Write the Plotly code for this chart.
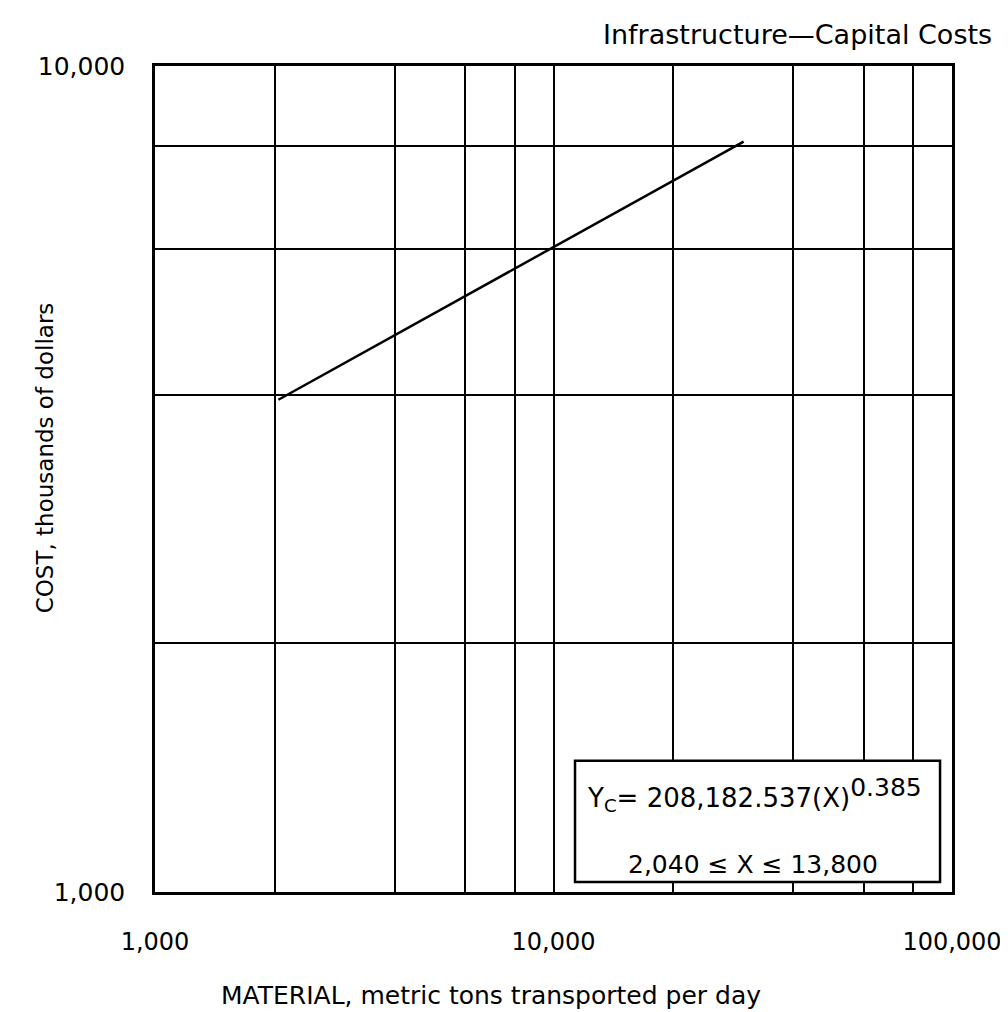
import plotly.graph_objects as go

# ---- data ----
fit_x = [2040, 30000]          # metric tons transported per day
fit_y = [3944, 8100]           # cost, thousands of dollars

x_major_ticks = [1000, 10000, 100000]
x_major_text = ["1,000", "10,000", "100,000"]
x_minor_grid = [2000, 4000, 6000, 8000, 20000, 40000, 60000, 80000]

y_major_ticks = [1000, 10000]
y_major_text = ["1,000", "10,000"]
y_minor_grid = [2000, 4000, 6000, 8000]

title_text = "Infrastructure\u2014Capital Costs"
x_title = "MATERIAL, metric tons transported per day"
y_title = "COST, thousands of dollars"
eq_line1 = "Y<sub>C</sub>= 208,182.537(X)<sup><span style='font-size:25px'>0.385</span></sup>"
eq_line2 = "2,040 \u2264 X \u2264 13,800"

FONT = "DejaVu Sans"

fig = go.Figure()
fig.add_trace(go.Scatter(
    x=fit_x, y=fit_y, mode="lines",
    line=dict(color="black", width=2.5),
    showlegend=False, hoverinfo="skip",
))

axis_common = dict(
    type="log",
    showline=True, mirror=True, linecolor="black", linewidth=2.5,
    showgrid=True, gridcolor="black", gridwidth=2,
    zeroline=False, ticks="",
    ticklabeloverflow="allow",
)

fig.update_xaxes(
    **axis_common,
    range=[3, 5],
    tickfont=dict(family=FONT, size=24, color="black"),
    tickmode="array", tickvals=x_major_ticks, ticktext=x_major_text,
    ticklabelstandoff=26,
    minor=dict(tickmode="array", tickvals=x_minor_grid, showgrid=True,
               gridcolor="black", gridwidth=2, ticks=""),
)
fig.update_yaxes(
    **axis_common,
    range=[3, 4],
    tickfont=dict(family=FONT, size=25, color="black"),
    tickmode="array", tickvals=y_major_ticks, ticktext=y_major_text,
    ticklabelstandoff=22,
    minor=dict(tickmode="array", tickvals=y_minor_grid, showgrid=True,
               gridcolor="black", gridwidth=2, ticks=""),
)

# equation box (opaque, covers the grid)
fig.add_shape(type="rect", xref="paper", yref="paper",
              x0=0.527, x1=0.985, y0=0.012, y1=0.159,
              line=dict(color="black", width=2.5), fillcolor="white",
              layer="above")

fig.add_annotation(xref="paper", yref="paper", x=0.752, y=0.118,
                   text=eq_line1, showarrow=False, xanchor="center", yanchor="middle",
                   font=dict(family=FONT, size=26, color="black"))
fig.add_annotation(xref="paper", yref="paper", x=0.75, y=0.033,
                   text=eq_line2, showarrow=False, xanchor="center", yanchor="middle",
                   font=dict(family=FONT, size=25, color="black"))

# title, axis titles
fig.add_annotation(xref="paper", yref="paper", x=1.053, y=1.038,
                   text=title_text, showarrow=False, xanchor="right", yanchor="middle",
                   font=dict(family=FONT, size=27, color="black"))
fig.add_annotation(xref="paper", yref="paper", x=0.4216, y=-0.125,
                   text=x_title, showarrow=False, xanchor="center", yanchor="middle",
                   font=dict(family=FONT, size=25, color="black"))
fig.add_annotation(xref="paper", yref="paper", x=-0.138, y=0.525,
                   text=y_title, showarrow=False, xanchor="center", yanchor="middle",
                   textangle=-90,
                   font=dict(family=FONT, size=23, color="black"))

fig.update_layout(
    width=1008, height=1012,
    margin=dict(l=147, r=64, t=58, b=128),
    paper_bgcolor="white", plot_bgcolor="white",
    font=dict(family=FONT, color="black"),
    showlegend=False,
)

fig.write_html("out.html")
